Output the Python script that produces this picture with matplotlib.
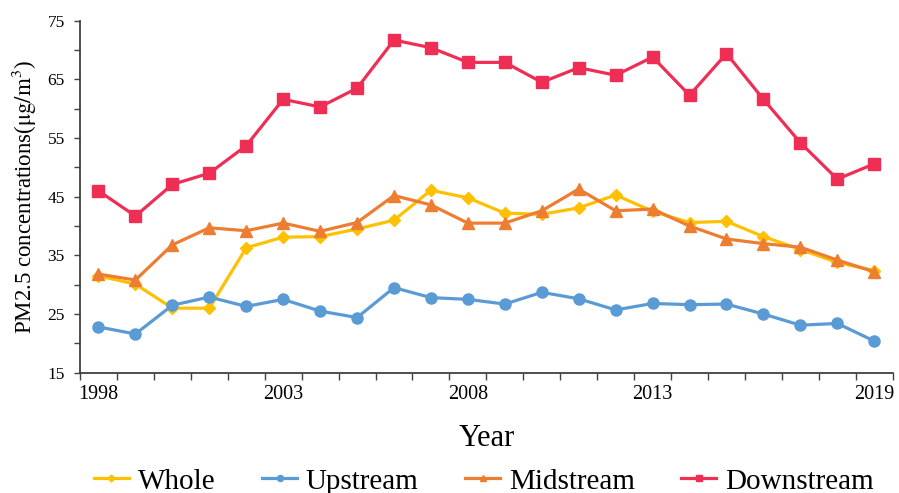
import numpy as np
import matplotlib.pyplot as plt
from matplotlib.ticker import MultipleLocator

plt.rcParams['font.family'] = ['Liberation Serif', 'DejaVu Serif']
plt.rcParams['mathtext.fontset'] = 'stix'

# --- data: annual mean PM2.5 by river section ---
years = list(range(1998, 2020))
tick_years = [1998, 2003, 2008, 2013, 2019]

whole = [31.5, 30.1, 26.0, 26.0, 36.3, 38.1, 38.2, 39.5, 41.0, 46.1, 44.8,
         42.2, 42.0, 43.1, 45.3, 42.5, 40.6, 40.8, 38.2, 36.0, 33.8, 32.4]
upstream = [22.8, 21.6, 26.5, 27.9, 26.3, 27.5, 25.5, 24.4, 29.5, 27.8, 27.5,
            26.7, 28.7, 27.6, 25.7, 26.8, 26.6, 26.7, 25.0, 23.1, 23.4, 20.4]
midstream = [31.8, 30.8, 36.8, 39.7, 39.2, 40.5, 39.1, 40.6, 45.2, 43.6, 40.5,
             40.5, 42.6, 46.3, 42.6, 42.9, 40.0, 37.8, 37.0, 36.4, 34.2, 32.2]
downstream = [46.0, 41.7, 47.1, 49.0, 53.7, 61.6, 60.3, 63.5, 71.7, 70.4, 67.9,
              67.9, 64.5, 67.0, 65.7, 68.8, 62.3, 69.4, 61.6, 54.2, 48.0, 50.6]

series = [
    ("Whole", whole, "#FFC000", "D", 6.5),
    ("Upstream", upstream, "#5B9BD5", "o", 8),
    ("Midstream", midstream, "#ED7D31", "^", 8.5),
    ("Downstream", downstream, "#EE2E55", "s", 8.5),
]

fig = plt.figure(figsize=(8.99, 4.93), dpi=100)
ax = fig.add_axes([0.089, 0.244, 0.904, 0.714])

x = np.arange(len(years))
for name, vals, color, marker, ms in series:
    ax.plot(x, vals, color=color, marker=marker, markersize=ms, linewidth=2.3,
            label=name)

# category axis: tick marks on the boundaries, labels at the centres
ax.set_xlim(-0.5, len(years) - 0.5)
ax.set_xticks([years.index(y) for y in tick_years])
ax.set_xticklabels([str(y) for y in tick_years], fontsize=14.5)
ax.set_xticks(np.arange(-0.5, len(years)), minor=True)
ax.tick_params(axis='x', which='major', length=0, pad=9)
ax.tick_params(axis='x', which='minor', length=5, width=1, color='#404040',
               direction='out')

ax.set_ylim(15, 75)
ax.set_yticks(np.arange(15, 76, 10))
ax.yaxis.set_minor_locator(MultipleLocator(5))
ax.tick_params(axis='y', which='both', length=4, width=1, color='#404040',
               direction='out', labelsize=12.5, pad=7)

for side in ['top', 'right']:
    ax.spines[side].set_visible(False)
for side in ['left', 'bottom']:
    ax.spines[side].set_color('#404040')
    ax.spines[side].set_linewidth(1.3)

ax.set_xlabel("Year", fontsize=22, labelpad=14)
ax.set_ylabel(r"PM2.5 concentrations($\mathrm{\mu g/m^3}$)", fontsize=16.5,
              labelpad=7)

ax.legend(loc='upper center', bbox_to_anchor=(0.497, -0.238), ncol=4,
          frameon=False, fontsize=21, markerscale=0.55, handlelength=1.2,
          handletextpad=0.3, columnspacing=1.6, borderaxespad=0)

fig.savefig("out.png", dpi=100, facecolor='white')
